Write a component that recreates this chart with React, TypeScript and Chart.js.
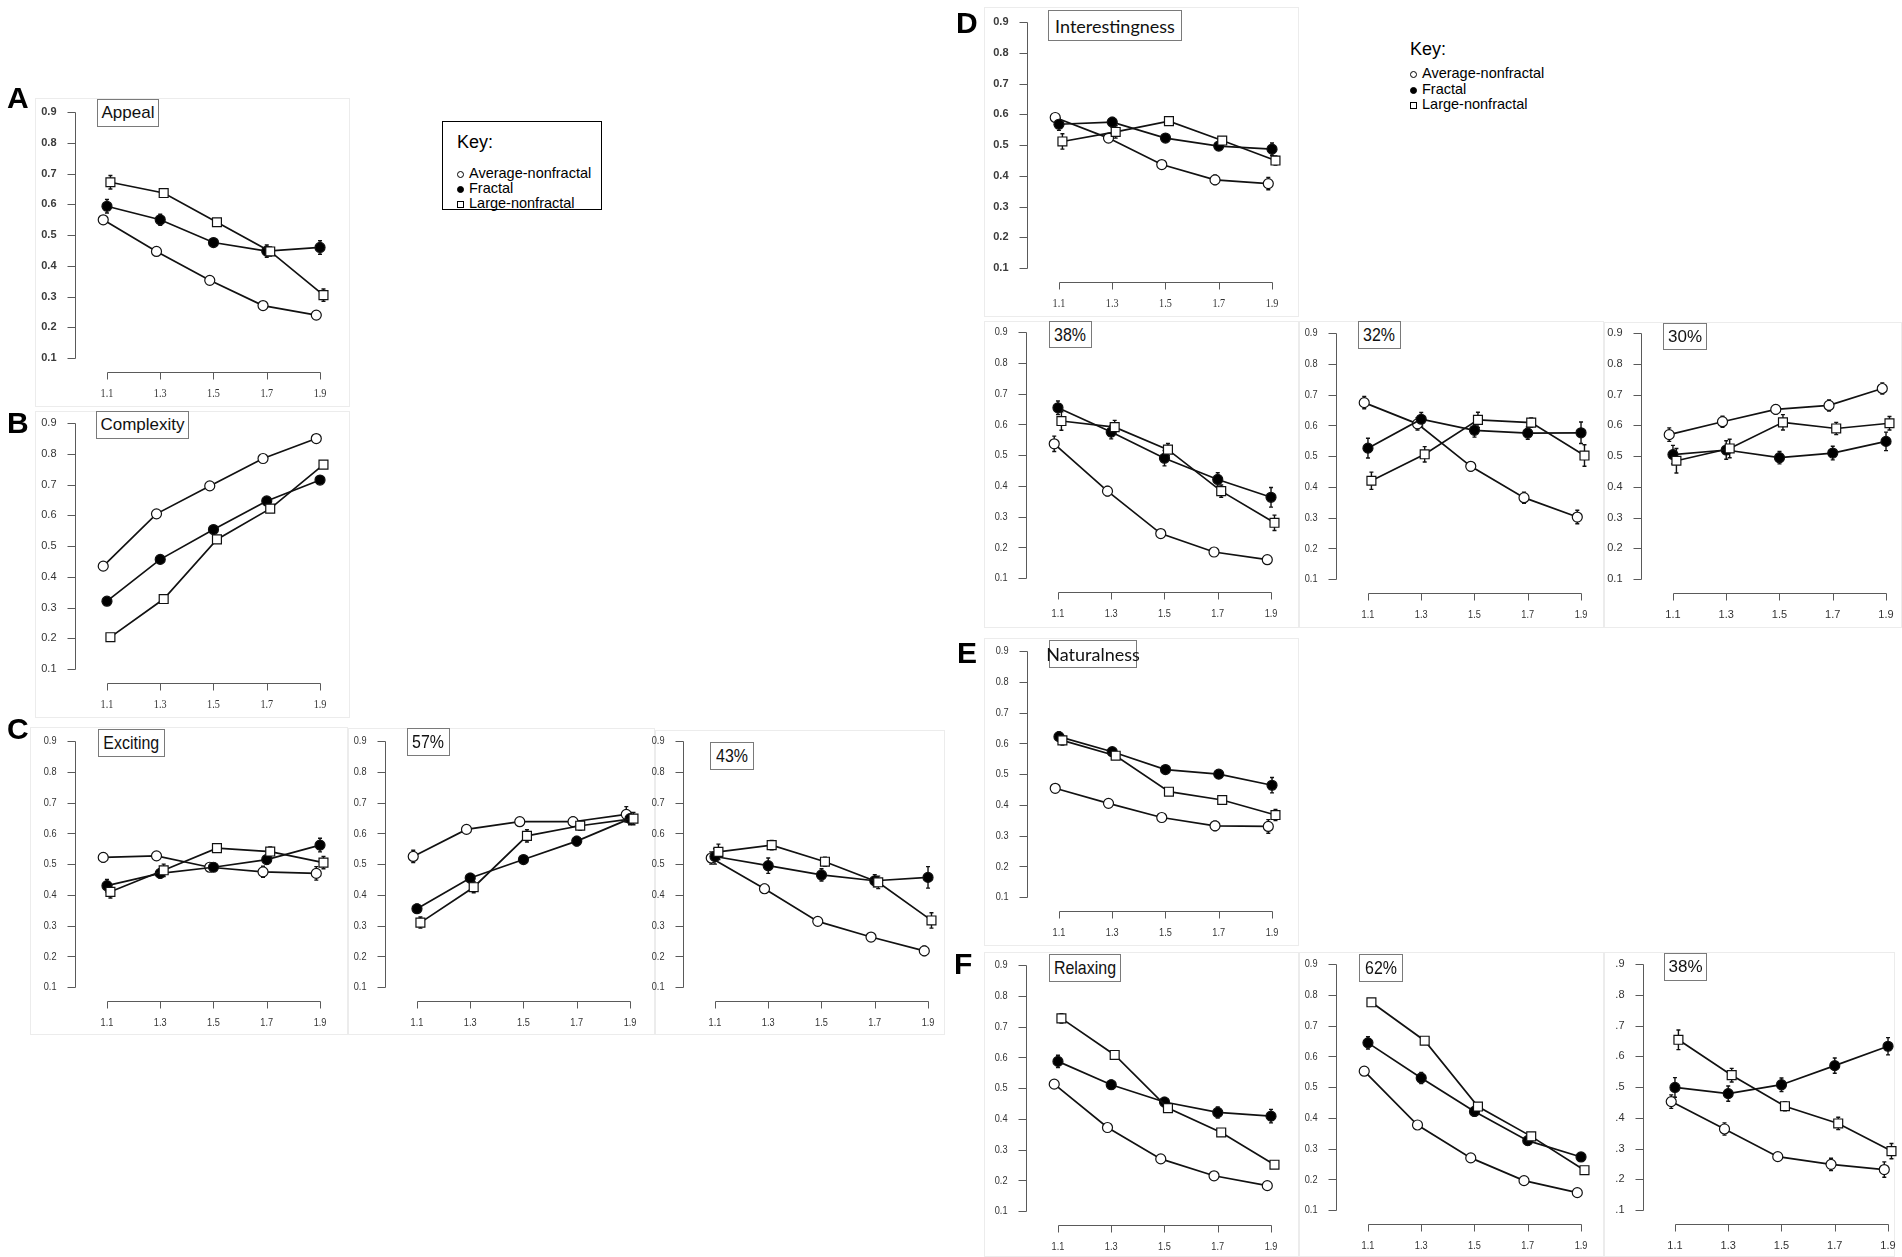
import React, { useEffect, useRef } from "react";
import { Chart, registerables } from "chart.js";

Chart.register(...registerables);

// ---------- shared axis values ----------
const xLevels = [1.1, 1.3, 1.5, 1.7, 1.9];
const xTickLabels = ["1.1", "1.3", "1.5", "1.7", "1.9"];
const yTickValues = [0.1, 0.2, 0.3, 0.4, 0.5, 0.6, 0.7, 0.8, 0.9];
const yTickLabels = ["0.1", "0.2", "0.3", "0.4", "0.5", "0.6", "0.7", "0.8", "0.9"];
const yTickLabelsShort = [".1", ".2", ".3", ".4", ".5", ".6", ".7", ".8", ".9"];
const seriesNames = ["Average-nonfractal", "Fractal", "Large-nonfractal"];

// ---------- A: Appeal ----------
const appealAvg = [0.55, 0.447, 0.353, 0.271, 0.24];
const appealFractal = [0.594, 0.55, 0.476, 0.448, 0.46];
const appealLarge = [0.672, 0.637, 0.542, 0.447, 0.305];
const appealAvgErr = [0.012, 0.008, 0.008, 0.008, 0.01];
const appealFractalErr = [0.022, 0.018, 0.01, 0.02, 0.022];
const appealLargeErr = [0.022, 0.012, 0.01, 0.015, 0.02];

// ---------- B: Complexity ----------
const complexAvg = [0.435, 0.605, 0.696, 0.785, 0.85];
const complexFractal = [0.321, 0.457, 0.554, 0.647, 0.715];
const complexLarge = [0.204, 0.328, 0.522, 0.622, 0.765];
const complexAvgErr = [0.006, 0.006, 0.006, 0.006, 0.006];
const complexFractalErr = [0.006, 0.006, 0.006, 0.006, 0.006];
const complexLargeErr = [0.006, 0.006, 0.006, 0.006, 0.006];

// ---------- C: Exciting ----------
const excitAvg = [0.522, 0.527, 0.49, 0.475, 0.47];
const excitFractal = [0.43, 0.47, 0.49, 0.515, 0.562];
const excitLarge = [0.41, 0.48, 0.552, 0.541, 0.505];
const excitAvgErr = [0.015, 0.01, 0.01, 0.018, 0.022];
const excitFractalErr = [0.02, 0.015, 0.01, 0.015, 0.022];
const excitLargeErr = [0.02, 0.02, 0.012, 0.015, 0.02];

const excit57Avg = [0.525, 0.613, 0.638, 0.638, 0.662];
const excit57Fractal = [0.355, 0.455, 0.515, 0.575, 0.648];
const excit57Large = [0.31, 0.425, 0.592, 0.625, 0.648];
const excit57AvgErr = [0.02, 0.01, 0.01, 0.015, 0.025];
const excit57FractalErr = [0.015, 0.015, 0.01, 0.015, 0.02];
const excit57LargeErr = [0.018, 0.018, 0.02, 0.015, 0.02];

const excit43Avg = [0.52, 0.42, 0.314, 0.263, 0.218];
const excit43Fractal = [0.525, 0.495, 0.465, 0.446, 0.457];
const excit43Large = [0.54, 0.562, 0.508, 0.441, 0.317];
const excit43AvgErr = [0.02, 0.015, 0.01, 0.012, 0.015];
const excit43FractalErr = [0.025, 0.025, 0.02, 0.02, 0.035];
const excit43LargeErr = [0.025, 0.015, 0.015, 0.02, 0.025];

// ---------- D: Interestingness ----------
const interAvg = [0.59, 0.523, 0.437, 0.387, 0.375];
const interFractal = [0.568, 0.575, 0.523, 0.497, 0.487];
const interLarge = [0.512, 0.543, 0.578, 0.515, 0.45];
const interAvgErr = [0.01, 0.01, 0.01, 0.015, 0.02];
const interFractalErr = [0.02, 0.015, 0.012, 0.012, 0.02];
const interLargeErr = [0.025, 0.02, 0.01, 0.012, 0.015];

const inter38Avg = [0.537, 0.383, 0.245, 0.185, 0.16];
const inter38Fractal = [0.654, 0.575, 0.49, 0.421, 0.363];
const inter38Large = [0.611, 0.591, 0.518, 0.383, 0.28];
const inter38AvgErr = [0.025, 0.015, 0.01, 0.012, 0.01];
const inter38FractalErr = [0.022, 0.022, 0.025, 0.022, 0.032];
const inter38LargeErr = [0.03, 0.022, 0.02, 0.02, 0.025];

const inter32Avg = [0.674, 0.605, 0.467, 0.365, 0.302];
const inter32Fractal = [0.526, 0.62, 0.584, 0.575, 0.576];
const inter32Large = [0.42, 0.506, 0.618, 0.609, 0.502];
const inter32AvgErr = [0.02, 0.02, 0.015, 0.018, 0.022];
const inter32FractalErr = [0.032, 0.022, 0.022, 0.02, 0.035];
const inter32LargeErr = [0.028, 0.025, 0.025, 0.015, 0.035];

const inter30Avg = [0.57, 0.612, 0.652, 0.665, 0.72];
const inter30Fractal = [0.505, 0.52, 0.495, 0.51, 0.548];
const inter30Large = [0.485, 0.525, 0.61, 0.59, 0.607];
const inter30AvgErr = [0.022, 0.018, 0.015, 0.018, 0.018];
const inter30FractalErr = [0.03, 0.03, 0.02, 0.022, 0.03];
const inter30LargeErr = [0.04, 0.03, 0.025, 0.02, 0.022];

// ---------- E: Naturalness ----------
const naturAvg = [0.454, 0.405, 0.359, 0.332, 0.33];
const naturFractal = [0.622, 0.573, 0.515, 0.5, 0.464];
const naturLarge = [0.61, 0.56, 0.443, 0.416, 0.367];
const naturAvgErr = [0.012, 0.008, 0.01, 0.015, 0.022];
const naturFractalErr = [0.015, 0.012, 0.01, 0.012, 0.025];
const naturLargeErr = [0.015, 0.012, 0.012, 0.01, 0.018];

// ---------- F: Relaxing ----------
const relaxAvg = [0.513, 0.372, 0.27, 0.215, 0.183];
const relaxFractal = [0.587, 0.511, 0.455, 0.421, 0.409];
const relaxLarge = [0.727, 0.608, 0.435, 0.356, 0.251];
const relaxAvgErr = [0.01, 0.008, 0.008, 0.008, 0.01];
const relaxFractalErr = [0.02, 0.015, 0.015, 0.018, 0.022];
const relaxLargeErr = [0.015, 0.01, 0.01, 0.01, 0.012];

const relax62Avg = [0.552, 0.377, 0.27, 0.196, 0.157];
const relax62Fractal = [0.644, 0.53, 0.421, 0.326, 0.273];
const relax62Large = [0.776, 0.651, 0.437, 0.34, 0.23];
const relax62AvgErr = [0.01, 0.008, 0.008, 0.008, 0.008];
const relax62FractalErr = [0.02, 0.018, 0.015, 0.015, 0.012];
const relax62LargeErr = [0.012, 0.01, 0.01, 0.012, 0.01];

const relax38Avg = [0.453, 0.364, 0.274, 0.249, 0.232];
const relax38Fractal = [0.499, 0.479, 0.508, 0.57, 0.633];
const relax38Large = [0.654, 0.539, 0.438, 0.382, 0.292];
const relax38AvgErr = [0.022, 0.02, 0.012, 0.02, 0.025];
const relax38FractalErr = [0.032, 0.025, 0.022, 0.025, 0.028];
const relax38LargeErr = [0.032, 0.022, 0.015, 0.02, 0.025];

// ---------- layout (positions / styles only) ----------
type FontKind = "bold" | "regular" | "narrow" | "serif";
type TitleKind = "arial" | "narrow" | "lato" | "plain";

interface PanelDef {
  id: string;
  title: string;
  series: number[][];
  errors: number[][];
  axX: number;
  y9: number;
  yLabels: string[];
  yFont: FontKind;
  xFont: FontKind;
  box: [number, number, number, number];
  titleKind: TitleKind;
}

const panels: PanelDef[] = [
  { id: "A", title: "Appeal", series: [appealAvg, appealFractal, appealLarge], errors: [appealAvgErr, appealFractalErr, appealLargeErr], axX: 75, y9: 112, yLabels: yTickLabels, yFont: "bold", xFont: "serif", box: [97, 99, 62, 28], titleKind: "arial" },
  { id: "B", title: "Complexity", series: [complexAvg, complexFractal, complexLarge], errors: [complexAvgErr, complexFractalErr, complexLargeErr], axX: 75, y9: 423, yLabels: yTickLabels, yFont: "regular", xFont: "serif", box: [96, 411, 93, 28], titleKind: "arial" },
  { id: "C1", title: "Exciting", series: [excitAvg, excitFractal, excitLarge], errors: [excitAvgErr, excitFractalErr, excitLargeErr], axX: 75, y9: 741, yLabels: yTickLabels, yFont: "narrow", xFont: "narrow", box: [98, 729, 67, 28], titleKind: "narrow" },
  { id: "C2", title: "57%", series: [excit57Avg, excit57Fractal, excit57Large], errors: [excit57AvgErr, excit57FractalErr, excit57LargeErr], axX: 385, y9: 741, yLabels: yTickLabels, yFont: "narrow", xFont: "narrow", box: [407, 728, 43, 28], titleKind: "narrow" },
  { id: "C3", title: "43%", series: [excit43Avg, excit43Fractal, excit43Large], errors: [excit43AvgErr, excit43FractalErr, excit43LargeErr], axX: 683, y9: 741, yLabels: yTickLabels, yFont: "narrow", xFont: "narrow", box: [710, 742, 44, 28], titleKind: "narrow" },
  { id: "D1", title: "Interestingness", series: [interAvg, interFractal, interLarge], errors: [interAvgErr, interFractalErr, interLargeErr], axX: 1027, y9: 22, yLabels: yTickLabels, yFont: "bold", xFont: "serif", box: [1048, 10, 134, 31], titleKind: "lato" },
  { id: "D2", title: "38%", series: [inter38Avg, inter38Fractal, inter38Large], errors: [inter38AvgErr, inter38FractalErr, inter38LargeErr], axX: 1026, y9: 332, yLabels: yTickLabels, yFont: "narrow", xFont: "narrow", box: [1049, 321, 43, 27], titleKind: "narrow" },
  { id: "D3", title: "32%", series: [inter32Avg, inter32Fractal, inter32Large], errors: [inter32AvgErr, inter32FractalErr, inter32LargeErr], axX: 1336, y9: 333, yLabels: yTickLabels, yFont: "narrow", xFont: "narrow", box: [1358, 321, 43, 28], titleKind: "narrow" },
  { id: "D4", title: "30%", series: [inter30Avg, inter30Fractal, inter30Large], errors: [inter30AvgErr, inter30FractalErr, inter30LargeErr], axX: 1641, y9: 333, yLabels: yTickLabels, yFont: "regular", xFont: "regular", box: [1663, 323, 44, 27], titleKind: "plain" },
  { id: "E", title: "Naturalness", series: [naturAvg, naturFractal, naturLarge], errors: [naturAvgErr, naturFractalErr, naturLargeErr], axX: 1027, y9: 651, yLabels: yTickLabels, yFont: "narrow", xFont: "narrow", box: [1049, 640, 88, 28], titleKind: "lato" },
  { id: "F1", title: "Relaxing", series: [relaxAvg, relaxFractal, relaxLarge], errors: [relaxAvgErr, relaxFractalErr, relaxLargeErr], axX: 1026, y9: 965, yLabels: yTickLabels, yFont: "narrow", xFont: "narrow", box: [1049, 954, 72, 28], titleKind: "narrow" },
  { id: "F2", title: "62%", series: [relax62Avg, relax62Fractal, relax62Large], errors: [relax62AvgErr, relax62FractalErr, relax62LargeErr], axX: 1336, y9: 964, yLabels: yTickLabels, yFont: "narrow", xFont: "narrow", box: [1359, 954, 44, 28], titleKind: "narrow" },
  { id: "F3", title: "38%", series: [relax38Avg, relax38Fractal, relax38Large], errors: [relax38AvgErr, relax38FractalErr, relax38LargeErr], axX: 1643, y9: 964, yLabels: yTickLabelsShort, yFont: "regular", xFont: "regular", box: [1664, 953, 43, 28], titleKind: "plain" },
];

const frames: [number, number, number, number][] = [
  [35, 98, 315, 309],
  [35, 411, 315, 307],
  [30, 727, 318, 308],
  [348, 728, 307, 307],
  [655, 730, 290, 305],
  [984, 7, 315, 310],
  [984, 321, 315, 307],
  [1299, 321, 305, 307],
  [1604, 322, 298, 306],
  [984, 638, 315, 308],
  [984, 952, 315, 305],
  [1299, 952, 305, 305],
  [1604, 952, 291, 305],
];

const letters: [string, number, number][] = [
  ["A", 7, 96],
  ["B", 7, 421],
  ["C", 7, 727],
  ["D", 956, 21],
  ["E", 957, 651],
  ["F", 954, 962],
];

// chart geometry
const PAD_L = 50;
const PAD_T = 14;
const PAD_R = 8;
const PAD_B = 36;
const PLOT_W = 261;
const PLOT_H = 266;
const CW = PAD_L + PLOT_W + PAD_R;
const CH = PAD_T + PLOT_H + PAD_B;
const X_MIN = 0.98;
const X_MAX = 1.96;
const Y_MIN = 0.055;
const Y_MAX = 0.92;
const jitter = [-0.014, 0, 0.013];

function fontFor(kind: FontKind): { font: string; sx: number; color: string } {
  switch (kind) {
    case "bold":
      return { font: "bold 11px 'Liberation Sans', Arial, sans-serif", sx: 1, color: "#3a3a3a" };
    case "regular":
      return { font: "11px 'Liberation Sans', Arial, sans-serif", sx: 1, color: "#333" };
    case "narrow":
      return { font: "11.5px 'Liberation Sans', Arial, sans-serif", sx: 0.8, color: "#333" };
    default:
      return { font: "12px 'Liberation Serif', 'Times New Roman', serif", sx: 0.85, color: "#333" };
  }
}

function drawText(ctx: CanvasRenderingContext2D, text: string, x: number, y: number, align: CanvasTextAlign, kind: FontKind) {
  const f = fontFor(kind);
  ctx.save();
  ctx.translate(x, y);
  ctx.scale(f.sx, 1);
  ctx.font = f.font;
  ctx.fillStyle = f.color;
  ctx.textAlign = align;
  ctx.textBaseline = "middle";
  ctx.fillText(text, 0, 0);
  ctx.restore();
}

function Panel({ p }: { p: PanelDef }) {
  const ref = useRef<HTMLCanvasElement | null>(null);
  useEffect(() => {
    const canvas = ref.current;
    if (!canvas) return;

    const axesPlugin = {
      id: "rAxes",
      afterDatasetsDraw(chart: any) {
        const { ctx, chartArea } = chart;
        const xs = chart.scales.x;
        const ys = chart.scales.y;
        ctx.save();
        ctx.strokeStyle = "#5a5a5a";
        ctx.lineWidth = 1;
        const left = Math.round(chartArea.left) + 0.5;
        const bottom = Math.round(chartArea.bottom) + 0.5;
        ctx.beginPath();
        ctx.moveTo(left, Math.round(ys.getPixelForValue(yTickValues[yTickValues.length - 1])) + 0.5);
        ctx.lineTo(left, Math.round(ys.getPixelForValue(yTickValues[0])) + 0.5);
        yTickValues.forEach((v) => {
          const py = Math.round(ys.getPixelForValue(v)) + 0.5;
          ctx.moveTo(left - 8, py);
          ctx.lineTo(left, py);
        });
        ctx.moveTo(Math.round(xs.getPixelForValue(xLevels[0])) + 0.5, bottom);
        ctx.lineTo(Math.round(xs.getPixelForValue(xLevels[xLevels.length - 1])) + 0.5, bottom);
        xLevels.forEach((v) => {
          const px = Math.round(xs.getPixelForValue(v)) + 0.5;
          ctx.moveTo(px, bottom);
          ctx.lineTo(px, bottom + 7);
        });
        ctx.stroke();
        yTickValues.forEach((v, i) => {
          drawText(ctx, p.yLabels[i], left - 19, ys.getPixelForValue(v), "right", p.yFont);
        });
        xLevels.forEach((v, i) => {
          drawText(ctx, xTickLabels[i], xs.getPixelForValue(v), bottom + 21, "center", p.xFont);
        });
        ctx.restore();
      },
    };

    const errPlugin = {
      id: "errBars",
      beforeDatasetsDraw(chart: any) {
        const { ctx } = chart;
        const xs = chart.scales.x;
        const ys = chart.scales.y;
        ctx.save();
        ctx.strokeStyle = "#111";
        ctx.lineWidth = 1.4;
        p.series.forEach((vals, si) => {
          vals.forEach((v, i) => {
            const e = p.errors[si][i];
            const px = xs.getPixelForValue(xLevels[i] + jitter[si]);
            const y1 = ys.getPixelForValue(v + e);
            const y2 = ys.getPixelForValue(v - e);
            ctx.beginPath();
            ctx.moveTo(px, y1);
            ctx.lineTo(px, y2);
            ctx.moveTo(px - 2, y1);
            ctx.lineTo(px + 2, y1);
            ctx.moveTo(px - 2, y2);
            ctx.lineTo(px + 2, y2);
            ctx.stroke();
          });
        });
        ctx.restore();
      },
    };

    const styles = [
      { pointStyle: "circle", fill: "#ffffff", radius: 5, order: 3 },
      { pointStyle: "circle", fill: "#000000", radius: 5, order: 2 },
      { pointStyle: "rect", fill: "#ffffff", radius: 6.3, order: 1 },
    ];

    const datasets = p.series.map((vals, si) => ({
      label: seriesNames[si],
      data: xLevels.map((x, i) => ({ x: x + jitter[si], y: vals[i] })),
      borderColor: "#111",
      borderWidth: 1.7,
      backgroundColor: styles[si].fill,
      pointStyle: styles[si].pointStyle,
      pointRadius: styles[si].radius,
      pointHoverRadius: styles[si].radius,
      pointBackgroundColor: styles[si].fill,
      pointBorderColor: "#111",
      pointBorderWidth: 1.2,
      fill: false,
      tension: 0,
      order: styles[si].order,
    }));

    const chart = new Chart(canvas, {
      type: "line",
      data: { datasets: datasets as any },
      options: {
        animation: false,
        responsive: false,
        maintainAspectRatio: false,
        events: [],
        layout: { padding: { left: PAD_L, top: PAD_T, right: PAD_R, bottom: PAD_B } },
        scales: {
          x: { type: "linear", min: X_MIN, max: X_MAX, display: false },
          y: { type: "linear", min: Y_MIN, max: Y_MAX, display: false },
        },
        plugins: {
          legend: { display: false },
          tooltip: { enabled: false },
        },
      },
      plugins: [errPlugin, axesPlugin],
    });
    return () => chart.destroy();
  }, [p]);

  return (
    <canvas
      ref={ref}
      width={CW}
      height={CH}
      style={{ position: "absolute", left: p.axX - PAD_L, top: p.y9 - 20, width: CW, height: CH }}
    />
  );
}

function TitleBox({ p }: { p: PanelDef }) {
  const [l, t, w, h] = p.box;
  let font = "17px 'Liberation Sans', Arial, sans-serif";
  let sx = 1;
  if (p.titleKind === "narrow") {
    font = "19px 'Liberation Sans', Arial, sans-serif";
    sx = 0.84;
  } else if (p.titleKind === "lato") {
    font = "18px Lato, 'Open Sans', sans-serif";
  } else if (p.titleKind === "plain") {
    font = "17px 'Liberation Sans', Arial, sans-serif";
  }
  return (
    <div
      style={{
        position: "absolute",
        left: l,
        top: t,
        width: w,
        height: h,
        boxSizing: "border-box",
        border: "1px solid #7a7a7a",
        background: "#fff",
        display: "flex",
        alignItems: "center",
        justifyContent: "center",
        font,
        color: "#111",
        whiteSpace: "nowrap",
        overflow: "visible",
      }}
    >
      <span style={{ display: "inline-block", transform: `scaleX(${sx})` }}>{p.title}</span>
    </div>
  );
}

function Marker({ kind }: { kind: number }) {
  const base: React.CSSProperties = {
    display: "inline-block",
    width: 7,
    height: 7,
    boxSizing: "border-box",
    border: "1px solid #000",
    marginRight: 5,
    verticalAlign: "middle",
  };
  if (kind === 0) return <span style={{ ...base, borderRadius: "50%", background: "#fff" }} />;
  if (kind === 1) return <span style={{ ...base, borderRadius: "50%", background: "#000" }} />;
  return <span style={{ ...base, background: "#fff" }} />;
}

function Key({ left, top, boxed, keyY, rowYs, width, height }: { left: number; top: number; boxed: boolean; keyY: number; rowYs: number[]; width: number; height: number }) {
  return (
    <div
      style={{
        position: "absolute",
        left,
        top,
        width,
        height,
        boxSizing: "border-box",
        border: boxed ? "1.5px solid #000" : "none",
        background: boxed ? "#fff" : "transparent",
      }}
    >
      <div
        style={{
          position: "absolute",
          left: 14,
          top: keyY - 10,
          height: 20,
          lineHeight: "20px",
          font: "18px 'Liberation Sans', Arial, sans-serif",
          color: "#000",
        }}
      >
        Key:
      </div>
      {seriesNames.map((name, i) => (
        <div
          key={name}
          style={{
            position: "absolute",
            left: 14,
            top: rowYs[i] - 8,
            height: 16,
            lineHeight: "16px",
            font: "14.5px 'Liberation Sans', Arial, sans-serif",
            color: "#000",
            whiteSpace: "nowrap",
          }}
        >
          <Marker kind={i} />
          {name}
        </div>
      ))}
    </div>
  );
}

export default function App() {
  return (
    <div
      style={{
        position: "fixed",
        left: 0,
        top: 0,
        width: 1902,
        height: 1257,
        overflow: "hidden",
        background: "#fff",
      }}
    >
      {frames.map(([l, t, w, h], i) => (
        <div
          key={"f" + i}
          style={{ position: "absolute", left: l, top: t, width: w, height: h, boxSizing: "border-box", border: "1px solid #ececec" }}
        />
      ))}
      {panels.map((p) => (
        <Panel key={p.id} p={p} />
      ))}
      {panels.map((p) => (
        <TitleBox key={"t" + p.id} p={p} />
      ))}
      {letters.map(([ch, x, cy]) => (
        <div
          key={ch}
          style={{
            position: "absolute",
            left: x,
            top: cy - 15,
            height: 30,
            lineHeight: "30px",
            font: "bold 30px 'Liberation Sans', Arial, sans-serif",
            color: "#000",
          }}
        >
          {ch}
        </div>
      ))}
      <Key left={442} top={121} boxed={true} keyY={20} rowYs={[51, 66, 81]} width={160} height={89} />
      <Key left={1396} top={29} boxed={false} keyY={20} rowYs={[44, 60, 75]} width={160} height={90} />
    </div>
  );
}
